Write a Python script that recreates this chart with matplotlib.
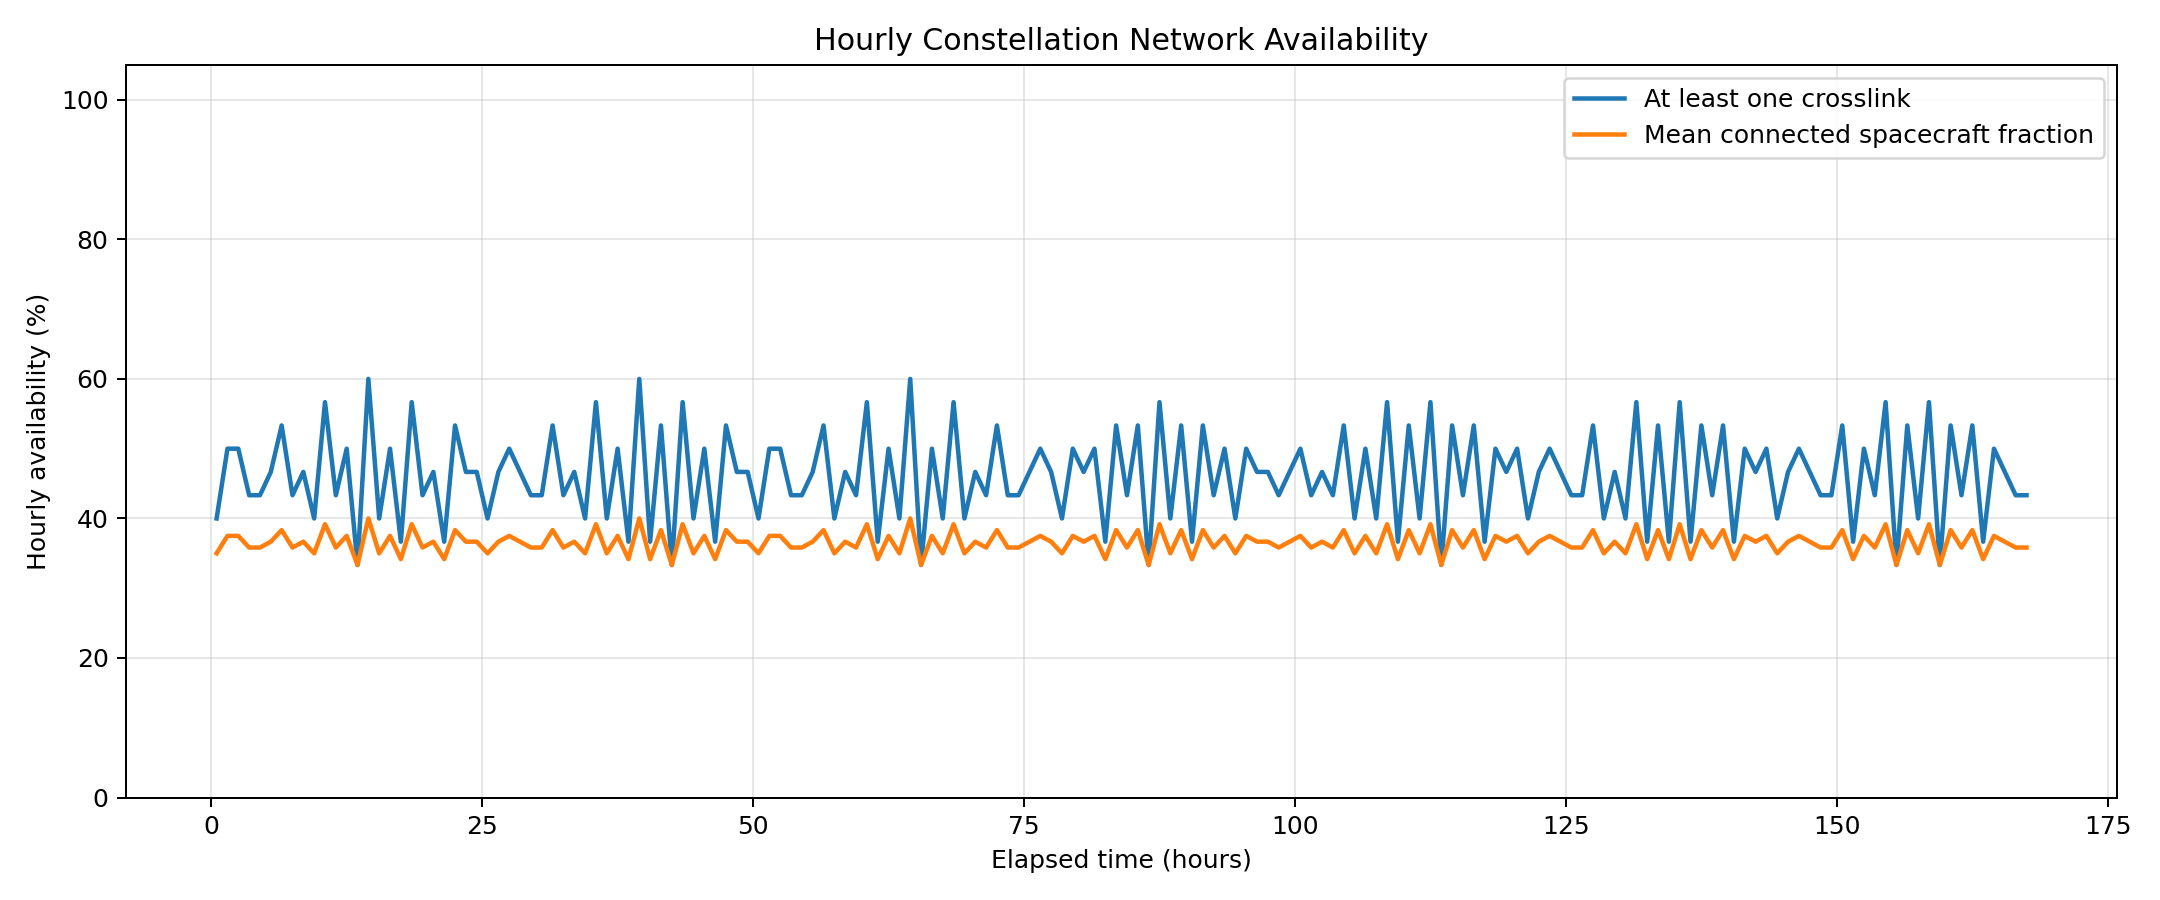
#!/usr/bin/env python3

import numpy as np
import matplotlib
matplotlib.use("Agg")
import matplotlib.pyplot as plt

# Hour centres of each bin.
hours = np.arange(168) + 0.5

# Percentage of the hour with at least one crosslink up.
any_link = [
    40, 50, 50, 43.33, 43.33, 46.67, 53.33, 43.33, 46.67, 40,
    56.67, 43.33, 50, 33.33, 60, 40, 50, 36.67, 56.67, 43.33,
    46.67, 36.67, 53.33, 46.67, 46.67, 40, 46.67, 50, 46.67,
    43.33, 43.33, 53.33, 43.33, 46.67, 40, 56.67, 40, 50, 36.67,
    60, 36.67, 53.33, 33.33, 56.67, 40, 50, 36.67, 53.33, 46.67,
    46.67, 40, 50, 50, 43.33, 43.33, 46.67, 53.33,
    40, 46.67, 43.33, 56.67, 36.67, 50, 40, 60, 33.33, 50,
    40, 56.67, 40, 46.67, 43.33, 53.33, 43.33, 43.33, 46.67, 50,
    46.67, 40, 50, 46.67, 50, 36.67, 53.33, 43.33, 53.33,
    33.33, 56.67, 40, 53.33, 36.67, 53.33, 43.33, 50, 40, 50,
    46.67, 46.67, 43.33, 46.67, 50, 43.33, 46.67, 43.33, 53.33, 40,
    50, 40, 56.67, 36.67, 53.33, 40, 56.67, 33.33,
    53.33, 43.33, 53.33, 36.67, 50, 46.67, 50, 40, 46.67, 50,
    46.67, 43.33, 43.33, 53.33, 40, 46.67, 40, 56.67, 36.67, 53.33,
    36.67, 56.67, 36.67, 53.33, 43.33, 53.33, 36.67, 50,
    46.67, 50, 40, 46.67, 50, 46.67, 43.33, 43.33, 53.33, 36.67,
    50, 43.33, 56.67, 33.33, 53.33, 40, 56.67, 33.33, 53.33, 43.33,
    53.33, 36.67, 50, 46.67, 43.33, 43.33,
]

# Mean fraction of spacecraft with a link, in percent.
mean_connected = [
    35, 37.5, 37.5, 35.83, 35.83, 36.67, 38.33, 35.83, 36.67, 35,
    39.17, 35.83, 37.5, 33.33, 40, 35, 37.5, 34.17, 39.17, 35.83,
    36.67, 34.17, 38.33, 36.67, 36.67, 35, 36.67, 37.5, 36.67,
    35.83, 35.83, 38.33, 35.83, 36.67, 35, 39.17, 35, 37.5, 34.17,
    40, 34.17, 38.33, 33.33, 39.17, 35, 37.5, 34.17, 38.33, 36.67,
    36.67, 35, 37.5, 37.5, 35.83, 35.83, 36.67, 38.33,
    35, 36.67, 35.83, 39.17, 34.17, 37.5, 35, 40, 33.33, 37.5,
    35, 39.17, 35, 36.67, 35.83, 38.33, 35.83, 35.83, 36.67, 37.5,
    36.67, 35, 37.5, 36.67, 37.5, 34.17, 38.33, 35.83, 38.33,
    33.33, 39.17, 35, 38.33, 34.17, 38.33, 35.83, 37.5, 35, 37.5,
    36.67, 36.67, 35.83, 36.67, 37.5, 35.83, 36.67, 35.83, 38.33, 35,
    37.5, 35, 39.17, 34.17, 38.33, 35, 39.17, 33.33,
    38.33, 35.83, 38.33, 34.17, 37.5, 36.67, 37.5, 35, 36.67, 37.5,
    36.67, 35.83, 35.83, 38.33, 35, 36.67, 35, 39.17, 34.17, 38.33,
    34.17, 39.17, 34.17, 38.33, 35.83, 38.33, 34.17, 37.5,
    36.67, 37.5, 35, 36.67, 37.5, 36.67, 35.83, 35.83, 38.33, 34.17,
    37.5, 35.83, 39.17, 33.33, 38.33, 35, 39.17, 33.33, 38.33, 35.83,
    38.33, 34.17, 37.5, 36.67, 35.83, 35.83,
]

fig, ax = plt.subplots(figsize=(12, 5), dpi=180)
ax.plot(hours, any_link, lw=1.8, label="At least one crosslink")
ax.plot(hours, mean_connected, lw=1.8, label="Mean connected spacecraft fraction")
ax.set_ylim(0, 105)
ax.set_title("Hourly Constellation Network Availability")
ax.set_xlabel("Elapsed time (hours)")
ax.set_ylabel("Hourly availability (%)")
ax.grid(True, alpha=0.3)
ax.legend(loc="upper right")
fig.tight_layout()
fig.savefig("out.png")
